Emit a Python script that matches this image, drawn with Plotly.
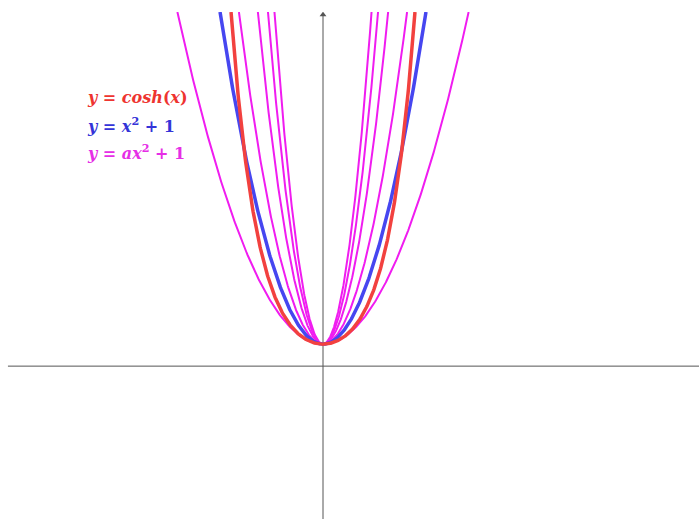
import numpy as np
import plotly.graph_objects as go

# Parameters of the magenta family y = a x^2 + 1
a_values = [0.5, 1.5, 2.5, 3.5, 4.5]
legend_labels = ["<b><i>y</i> = <i>cosh</i>(<i>x</i>)</b>",
                 "<b><i>y</i> = <i>x</i><sup>2</sup> + 1</b>",
                 "<b><i>y</i> = <i>ax</i><sup>2</sup> + 1</b>"]
legend_colors = ["#ee3430", "#3434d8", "#e62ee6"]
legend_ypx = [98, 125, 152]

W, H = 699, 519
TOP_PX = 12
Y_TOP = 16.1
X_RANGE = [-12.19, 14.19]
Y_RANGE = [-6.95, Y_TOP]

fig = go.Figure()

# magenta family
for a in a_values:
    xm = np.sqrt((Y_TOP - 1) / a)
    xs = np.linspace(-xm, xm, 400)
    fig.add_trace(go.Scatter(x=xs, y=a * xs**2 + 1, mode="lines",
                             line=dict(color="#f01cf0", width=2), hoverinfo="skip"))

# blue y = x^2 + 1
xm = np.sqrt(Y_TOP - 1)
xs = np.linspace(-xm, xm, 400)
fig.add_trace(go.Scatter(x=xs, y=xs**2 + 1, mode="lines",
                         line=dict(color="#4646f0", width=3.5), hoverinfo="skip"))

# red y = cosh(x)
xm = np.arccosh(Y_TOP)
xs = np.linspace(-xm, xm, 400)
fig.add_trace(go.Scatter(x=xs, y=np.cosh(xs), mode="lines",
                         line=dict(color="#f2413f", width=3.5), hoverinfo="skip"))

# axes lines
fig.add_shape(type="line", x0=-11.89, x1=X_RANGE[1], y0=0, y1=0,
              line=dict(color="#555555", width=1), layer="below")
fig.add_shape(type="line", x0=0, x1=0, y0=Y_RANGE[0], y1=Y_TOP - 0.1,
              line=dict(color="#555555", width=1), layer="below")
fig.add_trace(go.Scatter(x=[0], y=[Y_TOP - 0.12], mode="markers",
                         marker=dict(symbol="triangle-up", size=6, color="#555555"),
                         hoverinfo="skip"))

# legend text
for lab, col, yp in zip(legend_labels, legend_colors, legend_ypx):
    fig.add_annotation(x=85 / W, y=(H - yp) / (H - TOP_PX), xref="paper", yref="paper",
                       text=lab, showarrow=False, xanchor="left", yanchor="middle",
                       font=dict(family="DejaVu Serif", size=16, color=col))

fig.update_layout(
    width=W, height=H,
    margin=dict(l=0, r=0, t=TOP_PX, b=0, pad=0),
    paper_bgcolor="white", plot_bgcolor="white",
    showlegend=False,
    xaxis=dict(range=X_RANGE, visible=False, fixedrange=True),
    yaxis=dict(range=Y_RANGE, visible=False, fixedrange=True),
)

fig.write_html("out.html", config={"displayModeBar": False},
               post_script="document.body.style.margin='0';document.body.style.padding='0';")
